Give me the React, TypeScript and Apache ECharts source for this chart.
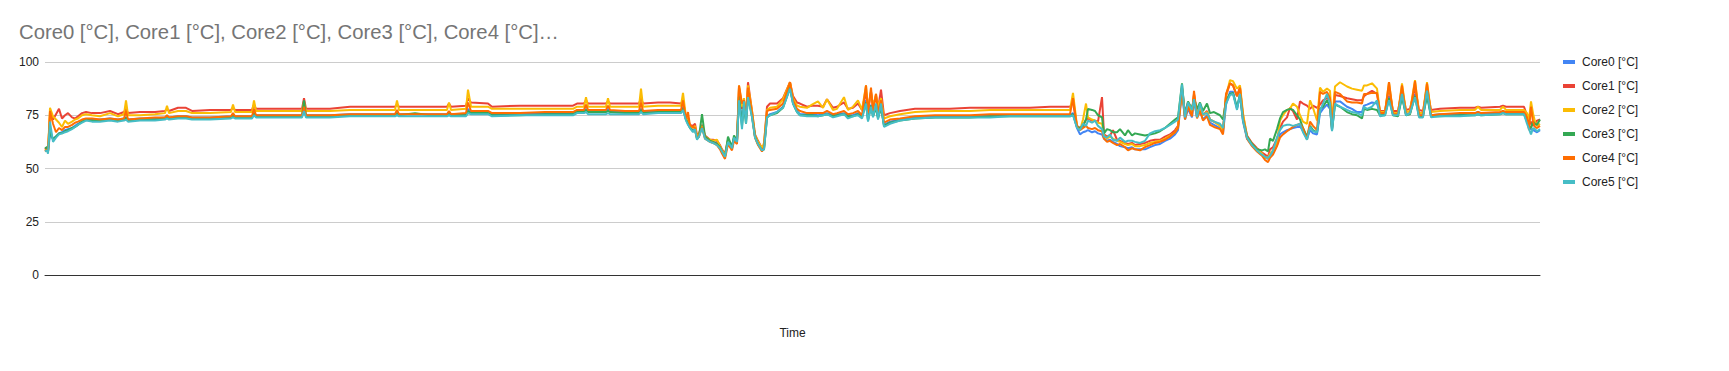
import React, { useEffect, useRef } from "react";
import * as echarts from "echarts";

const seriesNames = ["Core0 [°C]", "Core1 [°C]", "Core2 [°C]", "Core3 [°C]", "Core4 [°C]", "Core5 [°C]"];
const seriesColors = ["#4285F4", "#EA4335", "#FBBC04", "#34A853", "#FF6D01", "#46BDC6"];
const yTicks = [0, 25, 50, 75, 100];

const times = [
  0,2,3,5,8,11,14,17,20,23,27,30,33,37,41,47,55,65,73,79,
  81,83,95,110,120,122,124,133,141,147,165,186,188,190,207,209,211,235,257,259,
  261,285,305,330,350,352,354,370,385,402,404,406,421,423,426,443,447,475,500,528,
  532,539,541,543,561,563,565,580,594,596,598,613,625,636,638,641,643,645,648,650,
  652,654,657,660,665,668,672,675,677,680,683,687,689,692,694,697,699,701,703,707,
  710,713,717,719,722,725,732,738,745,748,752,755,762,767,773,778,782,788,792,799,
  803,808,813,817,821,823,826,828,831,833,836,839,845,855,870,890,905,925,945,965,
  985,1005,1023,1025,1028,1032,1035,1038,1041,1043,1047,1050,1053,1057,1059,1062,1065,1068,1072,1075,
  1080,1083,1087,1090,1095,1100,1105,1110,1115,1120,1125,1130,1133,1137,1140,1143,1147,1149,1152,1155,
  1158,1162,1165,1169,1175,1178,1181,1185,1188,1192,1195,1198,1202,1207,1212,1217,1220,1223,1225,1228,
  1232,1235,1238,1242,1245,1248,1252,1255,1258,1262,1265,1268,1272,1275,1278,1282,1285,1287,1290,1295,
  1302,1307,1312,1317,1319,1322,1327,1332,1335,1340,1344,1348,1353,1357,1361,1365,1370,1374,1378,1382,
  1386,1395,1415,1430,1433,1436,1455,1458,1461,1479,1482,1484,1486,1488,1490,1492,1495,
];

const core0 = [
  59,59,58,66,64,65,66.5,67,68,68.5,69,70,71,72,73,73,73,73.5,73,73.5,
  74,73,73.5,73.5,74,74.5,74,74.5,74.5,74,74,74.5,75,74.5,74.5,76,75,75,75,78,
  75,75,75.5,75.5,75.5,76,75.5,75.5,75.5,75.5,76.5,75.5,75.5,78,76.5,76.5,75.5,75.5,76,76,
  77,77,78,77,77,78,77,76.5,76.5,78,76.5,77,77,77,79,73,72,69.5,68,68.5,
  64.5,65.5,70,64.5,63,62.5,62,60,58.5,56,62.5,59.5,64,62,84,72,80,73,85,75,
  65,62,59,59.5,74.5,75.5,76.5,79,88,81,77,75.5,75.5,75.5,75,75.5,76,75,75.5,76,
  75,75,76,74.5,82,73,80,75,79,74,79,70.5,72,73,74,74.5,74.5,74.5,75,75,
  75,75,75,75,76,69,66,67,67.5,68,67,67.5,66.5,66,64,63,63.5,62.5,61.5,60.5,
  60,59.5,60,59,59,59,60,61,61.5,63,64,66,68,86,73,78,74,82,74,77,
  73,75,71.5,70.5,69,66.5,80,86,86,78,84.5,72,64,61,58.5,57,55,54.5,56,57.5,
  61,66,67,68,68.5,69,69.5,70,67.5,64,68,66.5,66,76,78,80,78,68,81.5,81.5,
  79,78,76.5,76.5,79.5,80,81,80.5,76,75.5,84,75.5,75.5,84,75.5,76,85,75,75,85,
  75,75.5,75.5,76,76.5,76,76,77,76,76,73,69,68.5,68,67.5,67,68,
];

const core1 = [
  59,60,58,75,73,75.5,78,73.5,75,76,74,73.5,74.5,76,76.5,76,76,77,75.5,76.5,
  78,76,76.5,76.5,77,78,77,78.5,78.5,77,77.5,77.5,78.5,77.5,77.5,80,78,78,78,83,
  78,78,79,79,79,80,79,79,79,79,80.5,79,79.5,83,81,80.5,79,79.5,79.5,79.5,
  80.5,80.5,82,80.5,80.5,81.5,80.5,80.5,80.5,83,80.5,81,81,80.5,82,74,73,70.5,70,71,
  65.5,66.5,70.5,65.5,63.5,63.5,63,61,59,57,63.5,60.5,64.5,63,88,78,82,74,90.5,77,
  66,63,59.5,61,79,80.5,80.5,83,90.5,84,81,80.5,79,79.5,79.5,79,82.5,78.5,79,81,
  78,78.5,80.5,77.5,86,77,86,79,84,78,87,75,76,77,78,78,78,78.5,78.5,78.5,
  78.5,79,79,79,81,70,69,70,73,73.5,72.5,72.5,72,83.5,66,65,65.5,68,63.5,63,
  62,61.5,62,61,61.5,62,63,63.5,63.5,65,66,68,70,88,76,81,77,85,76,79,
  75,77,73,72,70.5,68.5,84,90,89,84,88,75,65.5,62,59.5,57.5,56.5,55.5,59,60,
  64,69,72,74,78.5,77,73,81.5,80.5,79.5,78,79.5,78.5,80,82,83,82,70,84.5,84,
  83,82.5,82,82,84,85,86.5,85,77,77,88,77,77,87,77.5,78,88,77.5,77,88,
  77.5,78,78.5,78.5,79,78.5,79,79.5,79,79,75,70,72,70,71,72.5,73,
];

const core2 = [
  58.5,59,58,78.5,74.5,73,71.5,69.5,72.5,71,72,73,73.5,75,75.5,75,74.5,76,74.5,75.5,
  82,75,75,75.5,76,79.5,76,77,77,76,76,76.5,80,76.5,76.5,82,77,77,77,81,
  77,77,77.5,77.5,77.5,82,77.5,77.5,77.5,77.5,81,77.5,78,87,79,79,78,78,78,78,
  79,79,83.5,79,79,83,79,79,79,87.5,79,79.5,79.5,79.5,85.5,74,72,70,69,70,
  65,66,70,65,63.5,63,63.5,60.5,58.5,56.5,63,60,64,63,89,79,83,75,89,77,
  65.5,62.5,59.5,62,77.5,78.5,79,82.5,90.5,83,79.5,79,78.5,80,81.5,78.5,82.5,77.5,78,83.5,
  77.5,79,82,77.5,89,78,86,79,85,79,83,73.5,74.5,75.5,76.5,77,77,77,77.5,77.5,
  77.5,77.5,77.5,77.5,85.5,70,68,73,80.5,74,73,72.5,71.5,71,65.5,64,65,64,63,62.5,
  61.5,61,61.5,60.5,60.5,61,62,62.5,63,64,65.5,67,69.5,87,75,80,76,84.5,75.5,79,
  75,76.5,73,72,70,68,84,91.5,91,87.5,89,76,65,61.5,59,57,55,55,57,58.5,
  62,72.5,75,77.5,78,80.5,79,75,72,71,82,78.5,72.5,88,86,87.5,86.5,72,88.5,90.5,
  88.5,87.5,87,86.5,89,89,90,87.5,76.5,76.5,90.5,76,76,90,76.5,77,91.5,76,76,90.5,
  76.5,77,77.5,77.5,79,77.5,77.5,79,77.5,77.5,76,73,81.5,76,72,70,71,
];

const core3 = [
  59.5,60,58,68,63.5,65,66.5,66.5,67.5,68,69,69.5,70.5,72,73,72.5,72.5,73,72.5,73,
  74,72.5,73,73,73.5,74,73.5,74,74,73.5,73.5,74,75,74,74,76,74.5,74.5,74.5,82,
  74.5,74.5,75,75,75,76,75,76,75,75,76,75,75,77,76,76,75,75,75.5,75.5,
  76.5,76.5,77.5,76.5,76.5,77,76.5,76,76,77.5,76,76.5,76.5,76.5,78,73,71,69,67.5,68,
  64,65,75.5,65,63,62.5,61.5,60,58,55.5,65,60,65.5,63,84,70,80,71,84,74.5,
  65,61.5,58.5,59,74,75,76,78.5,88,80.5,76.5,75,75,75,74.5,75,75.5,74.5,75,75.5,
  74.5,74.5,75.5,74,81,72.5,79.5,74.5,78.5,73.5,78.5,70,71.5,72.5,73.5,74,74,74,74.5,74.5,
  74.5,74.5,74.5,74.5,75.5,69.5,69,70,73,78,77.5,77,75,74,66.5,68.5,68,67,67,68.5,
  65.5,68,65.5,66.5,66,65.5,66,66.5,67.5,69,71,73,74,90,74.5,81.5,78,83,78,81,
  77,80.5,76,76.5,75,73,82,85,85.5,78.5,85,73,65,61.5,59,58.5,59,58,64,63,
  68.5,73.5,76.5,77.5,78,77.5,75,73,69,65,70,68,67,78,79,82,79,68,80,79,
  76.5,75.5,75,73.5,78,77.5,78,77.5,75,75,83,75,74.5,83.5,75,75.5,84,74.5,74.5,84,
  74.5,74.5,75,75,75.5,75,75.5,76,75.5,75.5,72,70,69,72,71,70.5,73,
];

const core4 = [
  58,59,57.5,77,71,67,69,68,69.5,69.5,70.5,71.5,72,73,73.5,73.5,73,73.5,73,73.5,
  77,73,73.5,74,74,75,74,74.5,74.5,74,74,74.5,76,74.5,74.5,78,75,75,75,79,
  75,75,75.5,75.5,75.5,77.5,75.5,75.5,75.5,75.5,77,75.5,76,81,77,77,76,76,76.5,76.5,
  77.5,77.5,80,77.5,77.5,79.5,77.5,77,77,81,77,77.5,77.5,77.5,82,73,76.5,70,69.5,69,
  64,65,69.5,64,62.5,62,61,59,57,54.5,61.5,58.5,63,61.5,89,80.5,82,74,88,76,
  64.5,61,58,60,77,77.5,78,80.5,90.5,82,78,77,76,76,76,76,77,75.5,76,77,
  75.5,76,77,75,89,76,88,77,85,76,82,71.5,73,73.5,74.5,75,75,75,75.5,75.5,
  75.5,75.5,75.5,75.5,83,69.5,68,69,70,69,68.5,69,68,67.5,64,62.5,63,62,61,61.5,
  60,58.5,59.5,59,58.5,60,61,62,62.5,63.5,65,67,69,87.5,73,79,74.5,86.5,73.5,77,
  72.5,74.5,70.5,69.5,68.5,66,85,90,89,84,88,74,64,60.5,58,56,54,53,55,56.5,
  60.5,64.5,66,67.5,68.5,69.5,70.5,71,69,63.5,72,70,68,86,85,86,83,69,86,85,
  81.5,81,81,80.5,85,85,85.5,85.5,76,76,90.5,75.5,75.5,89,75.5,76,91,75,75,90,
  75,75.5,76,76,76.5,76,76.5,77,76.5,76.5,74,68,79,72,69.5,69,70,
];

const core5 = [
  58,58.5,57,72,62.5,64.5,66,66.5,67,67.5,68.5,69.5,70.5,71.5,72.5,72,72,72.5,72,72.5,
  73,72,72.5,72.5,73,73.5,73,73.5,73.5,73,73,73.5,74,73.5,73.5,75,74,74,74,77,
  74,74,74.5,74.5,74.5,75,74.5,74.5,74.5,74.5,75,74.5,74.5,76,75.5,75.5,74.5,75,75,75,
  76,76,76.5,75.5,75.5,76,75.5,75.5,75.5,76.5,75.5,76,76,76,77.5,72.5,70.5,69,67,68.5,
  63.5,65,69,64,62.5,62,61,59.5,58,55.5,62.5,59.5,64.5,62.5,82,68.5,81.5,71,83.5,74,
  64.5,61.5,58.5,59,74,75,76.5,78.5,87.5,80.5,76.5,75,74.5,74.5,74.5,75,75.5,74,74.5,75.5,
  73.5,74.5,75,73.5,80.5,72,79,74,80.5,73,80.5,69.5,71,72.5,73.5,74,74,74,74,74.5,
  74.5,74.5,74.5,74.5,75,69,68,71,70,72.5,71.5,72.5,70,68.5,65,64.5,66,63.5,63,64.5,
  62.5,63,63,62.5,62,63,66.5,67.5,68,69,70.5,72,73,89.5,74,81,77.5,82.5,74,80.5,
  75.5,76,73,72,71,69,80.5,84.5,85,77.5,85,72.5,64.5,61,58.5,56.5,55.5,55,56,58.5,
  64.5,68,70,70.5,70.5,70,70.5,71,67,63.5,69.5,67.5,67,77,80.5,85,80.5,67.5,80.5,79,
  77.5,76.5,76,75,79,78,79,82,74.5,75,82,75,75,85,75,76,83.5,74,74,86.5,
  74,74.5,74.5,75,75.5,75,75.5,76,75.5,75.5,71,68.5,66,69,68.5,67.5,68.5,
];

const allValues = [core0, core1, core2, core3, core4, core5];
const FONT = "'Liberation Sans', Arial, sans-serif";

export default function App() {
  const ref = useRef<HTMLDivElement>(null);
  useEffect(() => {
    if (!ref.current) return;
    const chart = echarts.init(ref.current, undefined, { renderer: "svg" });
    const series = allValues.map((vals, i) => ({
      name: seriesNames[i],
      type: "line",
      showSymbol: false,
      symbol: "none",
      lineStyle: { width: 2, color: seriesColors[i] },
      itemStyle: { color: seriesColors[i] },
      data: times.map((t, j) => [t, vals[j]]),
    }));
    chart.setOption({
      animation: false,
      textStyle: { fontFamily: FONT },
      title: {
        text: "Core0 [°C], Core1 [°C], Core2 [°C], Core3 [°C], Core4 [°C]…",
        left: 19,
        top: 22,
        padding: 0,
        textStyle: { fontSize: 20.3, fontWeight: "normal", color: "#757575", fontFamily: FONT },
      },
      legend: {
        orient: "vertical",
        left: 1558,
        top: 51,
        itemWidth: 12,
        itemHeight: 4,
        itemGap: 12,
        icon: "rect",
        data: seriesNames,
        textStyle: { fontSize: 12, color: "#222", fontFamily: FONT, padding: [0, 0, 0, 2] },
      },
      grid: { left: 45, right: 189, top: 62, bottom: 96, containLabel: false },
      xAxis: {
        type: "value",
        min: 0,
        max: times[times.length - 1],
        name: "Time",
        nameLocation: "middle",
        nameGap: 52,
        nameTextStyle: { fontSize: 12, color: "#222", fontFamily: FONT },
        axisLabel: { show: false },
        axisTick: { show: false },
        splitLine: { show: false },
        axisLine: { show: true, lineStyle: { color: "#333", width: 1 } },
      },
      yAxis: {
        type: "value",
        min: yTicks[0],
        max: yTicks[yTicks.length - 1],
        interval: 25,
        axisLine: { show: false },
        axisTick: { show: false },
        axisLabel: { fontSize: 12, color: "#222", margin: 6, fontFamily: FONT },
        splitLine: { lineStyle: { color: "#ccc", width: 1 } },
      },
      series,
    });
    return () => chart.dispose();
  }, []);
  return (
    <div
      ref={ref}
      style={{ position: "fixed", left: 0, top: 0, width: 1729, height: 371, background: "#fff" }}
    />
  );
}
